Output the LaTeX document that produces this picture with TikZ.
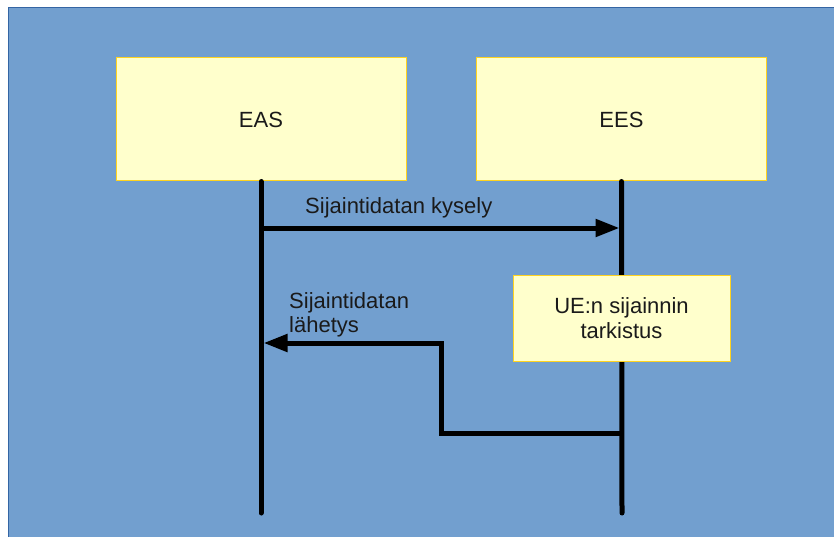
\documentclass[tikz,border=0pt]{standalone}
\usepackage{fontspec}
\setmainfont{Liberation Sans}
\usetikzlibrary{arrows.meta}
\definecolor{bgblue}{HTML}{729FCF}
\definecolor{bgedge}{HTML}{3465A4}
\definecolor{boxfill}{HTML}{FFFFCC}
\definecolor{boxedge}{HTML}{FFD320}
\definecolor{ink}{HTML}{1A1A1A}
\begin{document}
\begin{tikzpicture}[x=1pt,y=-1pt,
  every node/.style={font=\fontsize{22}{24.5}\selectfont, text=ink},
  entity/.style={draw=boxedge, line width=1pt, fill=boxfill, minimum width=290pt, minimum height=123pt, inner sep=0pt},
  procbox/.style={draw=boxedge, line width=1pt, fill=boxfill, minimum width=217pt, minimum height=86pt, inner sep=0pt, align=center},
  lifeline/.style={line width=5pt, line cap=round, black},
  msg/.style={line width=5pt, black, -{Triangle[length=24pt,width=17pt]}, line join=miter},
  msglabel/.style={inner sep=0pt, align=left}
]
\useasboundingbox (0,0) rectangle (834,537);
% backdrop
\fill[white] (0,0) rectangle (834,537);
\draw[bgedge, fill=bgblue, line width=1pt] (8.5,7.5) rectangle (840,545);

% participants
\node[entity] (eas) at (261,119.5) {EAS};
\node[entity] (ees) at (621.5,119.5) {EES};

% lifeline ends
\coordinate (easend) at (261,513);
\coordinate (eesend) at (622,513);
\draw[lifeline] (eas.south) -- (easend);
\draw[lifeline] (ees.south) -- (eesend);

% local processing step on the EES lifeline
\node[procbox] (chk) at (621.5,318) {UE:n sijainnin\\tarkistus};

% request
\coordinate (req0) at (261,228);
\coordinate (req1) at (619.5,228);
\draw[msg] (req0) -- (req1);
\node[msglabel, anchor=base west] (reqlabel) at (305,214) {Sijaintidatan kysely};

% response
\coordinate (resp0) at (622,433);
\coordinate (resp1) at (263.5,343);
\draw[msg] (resp0) -- (441,433) -- (441,343) -- (resp1);
\node[msglabel, anchor=north west] (resplabel) at (289,292) {Sijaintidatan\\lähetys};
\end{tikzpicture}
\end{document}
